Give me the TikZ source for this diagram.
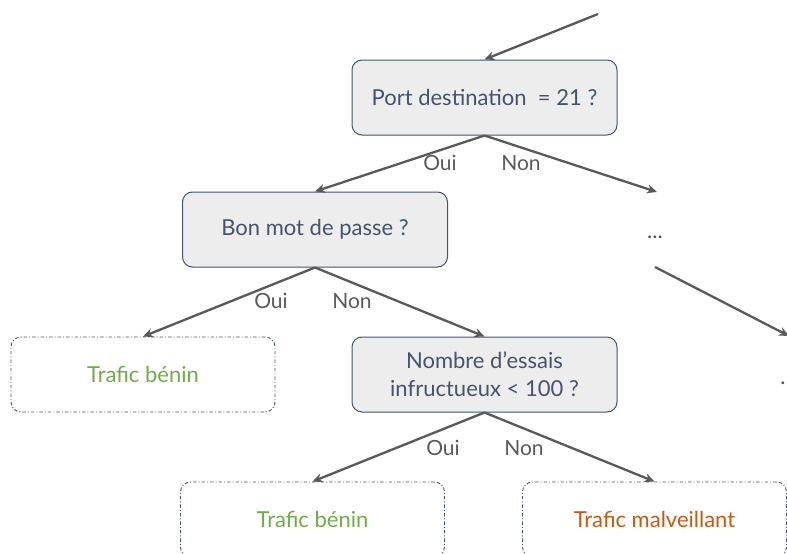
\documentclass[tikz,border=0pt]{standalone}
\usepackage{fontspec}
\setmainfont{Lato}
\usetikzlibrary{arrows.meta}
\definecolor{slate}{HTML}{44546A}
\definecolor{boxfill}{HTML}{EDEDED}
\definecolor{lnk}{HTML}{595959}
\definecolor{benin}{HTML}{70AD47}
\definecolor{malv}{HTML}{C55A11}
\tikzset{
  decision/.style={draw=slate, line width=1pt, fill=boxfill, rounded corners=10pt,
    minimum width=265pt, minimum height=75pt, text=slate, font=\fontsize{22}{28}\selectfont, align=center, inner sep=0pt},
  leaf/.style={draw=slate, line width=0.9pt, dash pattern=on 3.5pt off 2pt on 1pt off 2pt, rounded corners=10pt,
    minimum width=264pt, minimum height=75pt, font=\fontsize{22}{28}\selectfont, inner sep=0pt},
  link/.style={draw=lnk, line width=2.3pt, -{Stealth[length=10pt,width=9pt]}},
  lbl/.style={text=lnk, font=\fontsize{21}{25}\selectfont, inner sep=0pt},
}
\begin{document}
\begin{tikzpicture}[x=1pt,y=-1pt]
\useasboundingbox (0,0) rectangle (787,554);
\clip (0,0) rectangle (787,554);
\node[decision] (port) at (484.5,97.5) {Port destination~~= 21 ?};
\node[decision] (mdp) at (315,229.5) {Bon mot de passe ?};
\node[leaf, text=benin] (b1) at (143,374.5) {Trafic bénin};
\node[decision] (nb) at (484.5,374.5) {Nombre d’essais\\infructueux < 100 ?};
\node[leaf, text=benin] (b2) at (312.5,519.5) {Trafic bénin};
\node[leaf, text=malv] (mal) at (654.5,519.5) {Trafic malveillant};
\node[text=slate, font=\fontsize{22}{28}\selectfont, anchor=base, inner sep=0pt] (dots) at (655,238) {...};
\node[text=slate, font=\fontsize{22}{28}\selectfont, anchor=base, inner sep=0pt] (dots2) at (783,384) {.};
\coordinate (in) at (598,14);
\coordinate (d1) at (657,192);
\coordinate (d2s) at (655,267);
\coordinate (d2e) at (789,336);
\draw[link] (in) -- (port.north);
\draw[link] (port.south) -- (mdp.north);
\draw[link] (port.south) -- (d1);
\draw[link] (d2s) -- (d2e);
\draw[link] (mdp.south) -- (b1.north);
\draw[link] (mdp.south) -- (nb.north);
\draw[link] (nb.south) -- (b2.north);
\draw[link] (nb.south) -- (mal.north);
\node[lbl] (o1) at (440,163) {Oui};
\node[lbl] (n1) at (521,163) {Non};
\node[lbl] (o2) at (271,301) {Oui};
\node[lbl] (n2) at (352,301) {Non};
\node[lbl] (o3) at (443,448) {Oui};
\node[lbl] (n3) at (524,448) {Non};
\end{tikzpicture}
\end{document}
